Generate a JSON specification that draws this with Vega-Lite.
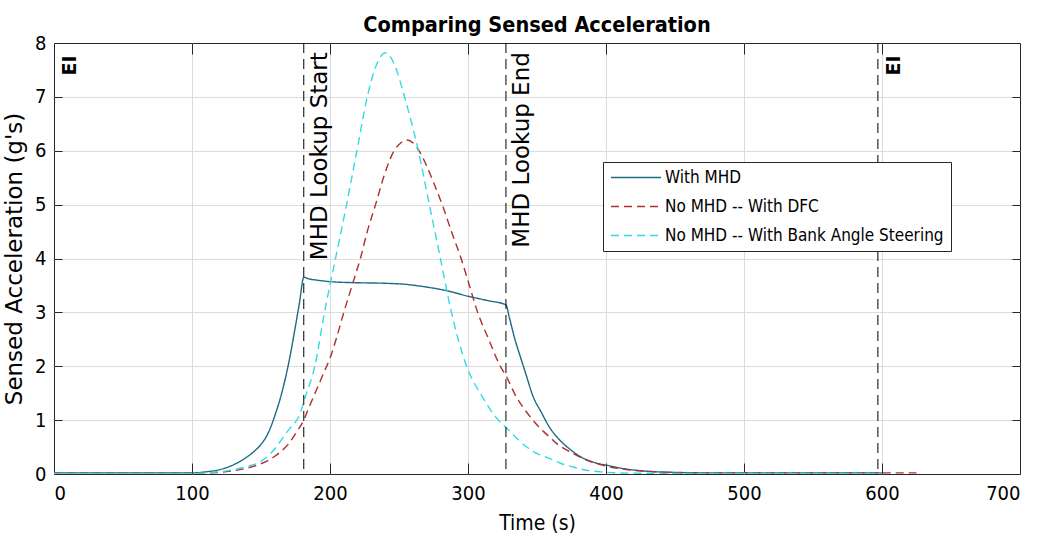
{
  "$schema": "https://vega.github.io/schema/vega-lite/v6.json",
  "width": 966,
  "height": 431,
  "autosize": {"type": "none"},
  "padding": {"left": 54, "top": 43, "right": 20, "bottom": 72},
  "background": "white",
  "title": {"text": "Comparing Sensed Acceleration", "font": "DejaVu Sans Condensed, Liberation Sans Narrow, sans-serif", "fontSize": 21.5, "fontWeight": "bold", "color": "black", "offset": -3, "anchor": "middle"},
  "config": {
    "view": {"stroke": "#262626", "strokeWidth": 1},
    "axis": {"domain": false, "labelColor": "black", "titleColor": "black", "tickColor": "#262626", "gridColor": "#dcdcdc", "gridWidth": 1}
  },
  "datasets": {
    "series": [
      {"series": "With MHD", "t": 0, "v": 0.02}, {"series": "With MHD", "t": 50, "v": 0.02}, {"series": "With MHD", "t": 100, "v": 0.02},
      {"series": "With MHD", "t": 110, "v": 0.04}, {"series": "With MHD", "t": 120, "v": 0.08}, {"series": "With MHD", "t": 130, "v": 0.17},
      {"series": "With MHD", "t": 140, "v": 0.32}, {"series": "With MHD", "t": 145, "v": 0.42}, {"series": "With MHD", "t": 150, "v": 0.55},
      {"series": "With MHD", "t": 155, "v": 0.75}, {"series": "With MHD", "t": 160, "v": 1.08}, {"series": "With MHD", "t": 165, "v": 1.5},
      {"series": "With MHD", "t": 170, "v": 2.05}, {"series": "With MHD", "t": 175, "v": 2.75}, {"series": "With MHD", "t": 178, "v": 3.2},
      {"series": "With MHD", "t": 181, "v": 3.65}, {"series": "With MHD", "t": 185, "v": 3.62}, {"series": "With MHD", "t": 190, "v": 3.6},
      {"series": "With MHD", "t": 200, "v": 3.57}, {"series": "With MHD", "t": 220, "v": 3.55}, {"series": "With MHD", "t": 240, "v": 3.54},
      {"series": "With MHD", "t": 255, "v": 3.52}, {"series": "With MHD", "t": 270, "v": 3.47}, {"series": "With MHD", "t": 285, "v": 3.4},
      {"series": "With MHD", "t": 300, "v": 3.3}, {"series": "With MHD", "t": 314, "v": 3.22}, {"series": "With MHD", "t": 327.5, "v": 3.14},
      {"series": "With MHD", "t": 330, "v": 2.9}, {"series": "With MHD", "t": 334, "v": 2.5}, {"series": "With MHD", "t": 338, "v": 2.17},
      {"series": "With MHD", "t": 342, "v": 1.85}, {"series": "With MHD", "t": 347, "v": 1.45}, {"series": "With MHD", "t": 353, "v": 1.15},
      {"series": "With MHD", "t": 359, "v": 0.87}, {"series": "With MHD", "t": 365, "v": 0.67}, {"series": "With MHD", "t": 372, "v": 0.5},
      {"series": "With MHD", "t": 383, "v": 0.3}, {"series": "With MHD", "t": 392, "v": 0.21}, {"series": "With MHD", "t": 401, "v": 0.16},
      {"series": "With MHD", "t": 415, "v": 0.09}, {"series": "With MHD", "t": 430, "v": 0.05}, {"series": "With MHD", "t": 450, "v": 0.03},
      {"series": "With MHD", "t": 480, "v": 0.02}, {"series": "With MHD", "t": 540, "v": 0.02}, {"series": "With MHD", "t": 600, "v": 0.02},

      {"series": "No MHD -- With DFC", "t": 0, "v": 0.02}, {"series": "No MHD -- With DFC", "t": 50, "v": 0.02}, {"series": "No MHD -- With DFC", "t": 100, "v": 0.02},
      {"series": "No MHD -- With DFC", "t": 120, "v": 0.03}, {"series": "No MHD -- With DFC", "t": 130, "v": 0.06}, {"series": "No MHD -- With DFC", "t": 140, "v": 0.11},
      {"series": "No MHD -- With DFC", "t": 150, "v": 0.19}, {"series": "No MHD -- With DFC", "t": 155, "v": 0.25}, {"series": "No MHD -- With DFC", "t": 160, "v": 0.33},
      {"series": "No MHD -- With DFC", "t": 165, "v": 0.43}, {"series": "No MHD -- With DFC", "t": 170, "v": 0.56}, {"series": "No MHD -- With DFC", "t": 175, "v": 0.75},
      {"series": "No MHD -- With DFC", "t": 181, "v": 1.0}, {"series": "No MHD -- With DFC", "t": 185, "v": 1.25}, {"series": "No MHD -- With DFC", "t": 190, "v": 1.55},
      {"series": "No MHD -- With DFC", "t": 195, "v": 1.85}, {"series": "No MHD -- With DFC", "t": 200, "v": 2.15}, {"series": "No MHD -- With DFC", "t": 205, "v": 2.55},
      {"series": "No MHD -- With DFC", "t": 210, "v": 3.0}, {"series": "No MHD -- With DFC", "t": 216, "v": 3.5}, {"series": "No MHD -- With DFC", "t": 222, "v": 4.0},
      {"series": "No MHD -- With DFC", "t": 227, "v": 4.5}, {"series": "No MHD -- With DFC", "t": 233, "v": 5.0}, {"series": "No MHD -- With DFC", "t": 240, "v": 5.6},
      {"series": "No MHD -- With DFC", "t": 246, "v": 5.98}, {"series": "No MHD -- With DFC", "t": 251, "v": 6.14}, {"series": "No MHD -- With DFC", "t": 256, "v": 6.2},
      {"series": "No MHD -- With DFC", "t": 260, "v": 6.15}, {"series": "No MHD -- With DFC", "t": 265, "v": 5.98}, {"series": "No MHD -- With DFC", "t": 270, "v": 5.72},
      {"series": "No MHD -- With DFC", "t": 276, "v": 5.35}, {"series": "No MHD -- With DFC", "t": 282, "v": 4.95}, {"series": "No MHD -- With DFC", "t": 288, "v": 4.5},
      {"series": "No MHD -- With DFC", "t": 295, "v": 4.0}, {"series": "No MHD -- With DFC", "t": 301, "v": 3.5}, {"series": "No MHD -- With DFC", "t": 307, "v": 3.0},
      {"series": "No MHD -- With DFC", "t": 315, "v": 2.5}, {"series": "No MHD -- With DFC", "t": 323, "v": 2.02}, {"series": "No MHD -- With DFC", "t": 328, "v": 1.8},
      {"series": "No MHD -- With DFC", "t": 335, "v": 1.43}, {"series": "No MHD -- With DFC", "t": 341, "v": 1.2}, {"series": "No MHD -- With DFC", "t": 347, "v": 1.0},
      {"series": "No MHD -- With DFC", "t": 353, "v": 0.83}, {"series": "No MHD -- With DFC", "t": 359, "v": 0.69}, {"series": "No MHD -- With DFC", "t": 365, "v": 0.55},
      {"series": "No MHD -- With DFC", "t": 372, "v": 0.44}, {"series": "No MHD -- With DFC", "t": 386, "v": 0.26}, {"series": "No MHD -- With DFC", "t": 403, "v": 0.13},
      {"series": "No MHD -- With DFC", "t": 420, "v": 0.07}, {"series": "No MHD -- With DFC", "t": 437, "v": 0.04}, {"series": "No MHD -- With DFC", "t": 460, "v": 0.02},
      {"series": "No MHD -- With DFC", "t": 530, "v": 0.02}, {"series": "No MHD -- With DFC", "t": 600, "v": 0.02}, {"series": "No MHD -- With DFC", "t": 625, "v": 0.02},

      {"series": "No MHD -- With Bank Angle Steering", "t": 0, "v": 0.01}, {"series": "No MHD -- With Bank Angle Steering", "t": 50, "v": 0.01}, {"series": "No MHD -- With Bank Angle Steering", "t": 100, "v": 0.01},
      {"series": "No MHD -- With Bank Angle Steering", "t": 110, "v": 0.02}, {"series": "No MHD -- With Bank Angle Steering", "t": 120, "v": 0.04}, {"series": "No MHD -- With Bank Angle Steering", "t": 130, "v": 0.08},
      {"series": "No MHD -- With Bank Angle Steering", "t": 140, "v": 0.14}, {"series": "No MHD -- With Bank Angle Steering", "t": 149, "v": 0.22}, {"series": "No MHD -- With Bank Angle Steering", "t": 155, "v": 0.33},
      {"series": "No MHD -- With Bank Angle Steering", "t": 161, "v": 0.5}, {"series": "No MHD -- With Bank Angle Steering", "t": 166, "v": 0.68}, {"series": "No MHD -- With Bank Angle Steering", "t": 171, "v": 0.85},
      {"series": "No MHD -- With Bank Angle Steering", "t": 177, "v": 1.05}, {"series": "No MHD -- With Bank Angle Steering", "t": 183, "v": 1.5}, {"series": "No MHD -- With Bank Angle Steering", "t": 189, "v": 2.0},
      {"series": "No MHD -- With Bank Angle Steering", "t": 196, "v": 3.0}, {"series": "No MHD -- With Bank Angle Steering", "t": 204, "v": 4.0}, {"series": "No MHD -- With Bank Angle Steering", "t": 212, "v": 5.0},
      {"series": "No MHD -- With Bank Angle Steering", "t": 219.5, "v": 6.0}, {"series": "No MHD -- With Bank Angle Steering", "t": 227, "v": 7.0}, {"series": "No MHD -- With Bank Angle Steering", "t": 233, "v": 7.55},
      {"series": "No MHD -- With Bank Angle Steering", "t": 237, "v": 7.76}, {"series": "No MHD -- With Bank Angle Steering", "t": 240, "v": 7.82}, {"series": "No MHD -- With Bank Angle Steering", "t": 243, "v": 7.77},
      {"series": "No MHD -- With Bank Angle Steering", "t": 247, "v": 7.58}, {"series": "No MHD -- With Bank Angle Steering", "t": 254, "v": 7.0}, {"series": "No MHD -- With Bank Angle Steering", "t": 264, "v": 6.0},
      {"series": "No MHD -- With Bank Angle Steering", "t": 272, "v": 5.0}, {"series": "No MHD -- With Bank Angle Steering", "t": 280, "v": 4.0}, {"series": "No MHD -- With Bank Angle Steering", "t": 288, "v": 3.0},
      {"series": "No MHD -- With Bank Angle Steering", "t": 299, "v": 2.0}, {"series": "No MHD -- With Bank Angle Steering", "t": 310, "v": 1.45}, {"series": "No MHD -- With Bank Angle Steering", "t": 320, "v": 1.06},
      {"series": "No MHD -- With Bank Angle Steering", "t": 330, "v": 0.8}, {"series": "No MHD -- With Bank Angle Steering", "t": 342.6, "v": 0.5}, {"series": "No MHD -- With Bank Angle Steering", "t": 350, "v": 0.38},
      {"series": "No MHD -- With Bank Angle Steering", "t": 359, "v": 0.29}, {"series": "No MHD -- With Bank Angle Steering", "t": 367, "v": 0.2}, {"series": "No MHD -- With Bank Angle Steering", "t": 376, "v": 0.13},
      {"series": "No MHD -- With Bank Angle Steering", "t": 386, "v": 0.07}, {"series": "No MHD -- With Bank Angle Steering", "t": 396, "v": 0.04}, {"series": "No MHD -- With Bank Angle Steering", "t": 410, "v": 0.02},
      {"series": "No MHD -- With Bank Angle Steering", "t": 450, "v": 0.01}, {"series": "No MHD -- With Bank Angle Steering", "t": 525, "v": 0.01}, {"series": "No MHD -- With Bank Angle Steering", "t": 600, "v": 0.01}
    ],
    "vlines": [{"t": 181}, {"t": 327.5}, {"t": 597}],
    "lookup": [{"t": 181, "v": 7.83, "label": "MHD Lookup Start"}, {"t": 327.5, "v": 7.83, "label": "MHD Lookup End"}],
    "ei": [{"t": 0, "v": 7.77, "label": "EI"}, {"t": 597, "v": 7.77, "label": "EI"}]
  },
  "layer": [
    {
      "data": {"name": "series"},
      "mark": {"type": "line", "strokeWidth": 1.4, "clip": true, "interpolate": "monotone"},
      "encoding": {
        "x": {"field": "t", "type": "quantitative", "scale": {"domain": [0, 700], "nice": false, "zero": false},
          "axis": {"orient": "bottom", "values": [0, 100, 200, 300, 400, 500, 600, 700], "grid": false, "ticks": false, "labelPadding": 9, "labelFont": "DejaVu Sans Condensed, Liberation Sans Narrow, sans-serif", "labelFontSize": 20, "title": "Time (s)", "titleFont": "DejaVu Sans Condensed, Liberation Sans Narrow, sans-serif", "titleFontSize": 21, "titleFontWeight": "normal", "titlePadding": 9}},
        "y": {"field": "v", "type": "quantitative", "scale": {"domain": [0, 8], "nice": false},
          "axis": {"orient": "left", "values": [0, 1, 2, 3, 4, 5, 6, 7, 8], "grid": false, "ticks": false, "labelPadding": 8, "labelFont": "DejaVu Sans Condensed, Liberation Sans Narrow, sans-serif", "labelFontSize": 20, "title": "Sensed Acceleration (g's)", "titleFont": "DejaVu Sans", "titleFontSize": 23, "titleFontWeight": "normal", "titlePadding": 8}},
        "color": {"field": "series", "type": "nominal",
          "scale": {"domain": ["With MHD", "No MHD -- With DFC", "No MHD -- With Bank Angle Steering"], "range": ["#1c6b84", "#ac2f2d", "#33dae6"]},
          "legend": {"title": null, "orient": "none", "legendX": 549, "legendY": 119, "strokeColor": "#262626", "fillColor": "white", "padding": 7, "labelFont": "DejaVu Sans Condensed, Liberation Sans Narrow, sans-serif", "labelFontSize": 17, "labelColor": "black", "labelLimit": 0, "symbolType": "stroke", "symbolSize": 2500, "symbolStrokeWidth": 1.5, "clipHeight": 17, "rowPadding": 11, "labelOffset": 3}},
        "strokeDash": {"field": "series", "type": "nominal",
          "scale": {"domain": ["With MHD", "No MHD -- With DFC", "No MHD -- With Bank Angle Steering"], "range": [[1, 0], [8, 5], [8, 5]]},
          "legend": {"title": null, "orient": "none", "legendX": 549, "legendY": 119, "strokeColor": "#262626", "fillColor": "white", "padding": 7, "labelFont": "DejaVu Sans Condensed, Liberation Sans Narrow, sans-serif", "labelFontSize": 17, "labelColor": "black", "labelLimit": 0, "symbolType": "stroke", "symbolSize": 2500, "symbolStrokeWidth": 1.5, "clipHeight": 17, "rowPadding": 11, "labelOffset": 3}}
      }
    },
    {
      "data": {"name": "vlines"},
      "mark": {"type": "rule", "color": "black", "strokeWidth": 1, "strokeDash": [10, 6]},
      "encoding": {
        "x": {"field": "t", "type": "quantitative", "axis": {"orient": "bottom", "values": [100, 200, 300, 400, 500, 600], "grid": true, "labels": false, "ticks": true, "tickSize": -11, "title": null}}
      }
    },
    {
      "data": {"name": "lookup"},
      "mark": {"type": "text", "angle": 270, "align": "right", "baseline": "top", "dy": 5, "font": "DejaVu Sans", "fontSize": 23, "color": "black"},
      "encoding": {
        "x": {"field": "t", "type": "quantitative", "axis": {"orient": "top", "values": [100, 200, 300, 400, 500, 600], "grid": false, "labels": false, "ticks": true, "tickSize": -11, "title": null}},
        "y": {"field": "v", "type": "quantitative", "axis": {"orient": "left", "values": [1, 2, 3, 4, 5, 6, 7], "grid": true, "labels": false, "ticks": true, "tickSize": -8, "title": null}},
        "text": {"field": "label"}
      }
    },
    {
      "data": {"name": "ei"},
      "mark": {"type": "text", "angle": 270, "align": "right", "baseline": "top", "dy": 7, "font": "DejaVu Sans", "fontWeight": "bold", "fontSize": 19, "color": "black"},
      "encoding": {
        "x": {"field": "t", "type": "quantitative", "axis": null},
        "y": {"field": "v", "type": "quantitative", "axis": {"orient": "right", "values": [1, 2, 3, 4, 5, 6, 7], "grid": false, "labels": false, "ticks": true, "tickSize": -8, "title": null}},
        "text": {"field": "label"}
      }
    }
  ],
  "resolve": {"axis": {"x": "independent", "y": "independent"}}
}
